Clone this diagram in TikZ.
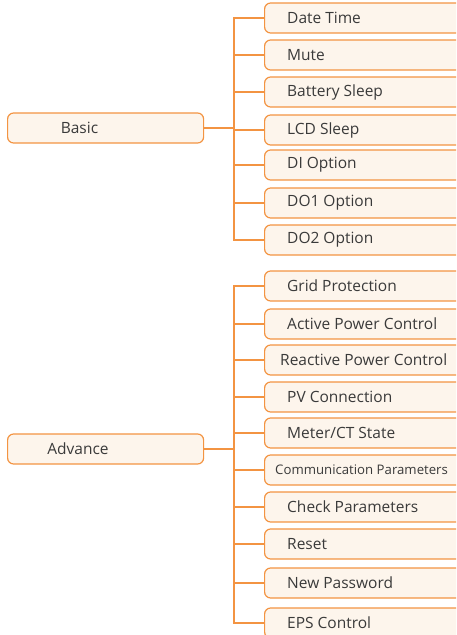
\documentclass[tikz,border=0pt]{standalone}
\usepackage{fontspec}
\setmainfont{Open Sans}
\definecolor{boxline}{HTML}{F39442}
\definecolor{boxfill}{HTML}{FDF5EC}
\definecolor{txt}{HTML}{3A3A3A}
\begin{document}
\begin{tikzpicture}[x=1pt,y=-1pt,
  item/.style={draw=boxline,fill=boxfill,line width=1.2pt,rounded corners=6pt,minimum width=210pt,minimum height=30pt,anchor=west,inner sep=0pt},
  lbl/.style={text=txt,font=\fontsize{15.5}{17}\selectfont,anchor=west,inner sep=0pt},
  conn/.style={draw=boxline,line width=1.2pt}]
\useasboundingbox (0,0) rectangle (456,635);
\clip (0,0) rectangle (456,635);
% left boxes
\node[item,minimum width=196pt] (basic) at (7,128) {};
\node[lbl,anchor=center] at (79.5,128) {Basic};
\node[item,minimum width=196pt] (adv) at (7,449) {};
\node[lbl,anchor=center] at (78,449) {Advance};
% right boxes
\foreach \n/\y/\t/\tx in {
  a1/18/Date Time/287, a2/55/Mute/287, a3/92/Battery Sleep/287, a4/130/LCD Sleep/287,
  a5/165/DI Option/287, a6/203/DO1 Option/287, a7/240/DO2 Option/287}{
  \node[item] (\n) at (264,\y) {};
  \node[lbl] at (\tx,\y) {\t};
}
\foreach \n/\y/\t/\tx/\fs in {
  b1/286/Grid Protection/287/15.5, b2/324/Active Power Control/287/15.5,
  b3/360/Reactive Power Control/280/15.5, b4/397/PV Connection/287/15.5,
  b5/433/{Meter/CT State}/287/15.5, b6/470/Communication Parameters/275/13.2,
  b7/507/Check Parameters/287/15.5, b8/544/Reset/287/15.5,
  b9/583/New Password/287/15.5, b10/623/EPS Control/287/15.5}{
  \node[item] (\n) at (264,\y) {};
  \node[lbl,font=\fontsize{\fs}{17}\selectfont] at (\tx,\y) {\t};
}
% connectors
\coordinate (ta) at (234,128);
\coordinate (tb) at (234,449);
\draw[conn] (basic.east) -- (ta);
\draw[conn] (adv.east) -- (tb);
\draw[conn] (a1.west) -| (ta) |- (a7.west);
\foreach \n in {a2,a3,a4,a5,a6} \draw[conn] (\n.west) -- (ta |- \n.west);
\draw[conn] (b1.west) -| (tb) |- (b10.west);
\foreach \n in {b2,b3,b4,b5,b6,b7,b8,b9} \draw[conn] (\n.west) -- (tb |- \n.west);
\end{tikzpicture}
\end{document}
